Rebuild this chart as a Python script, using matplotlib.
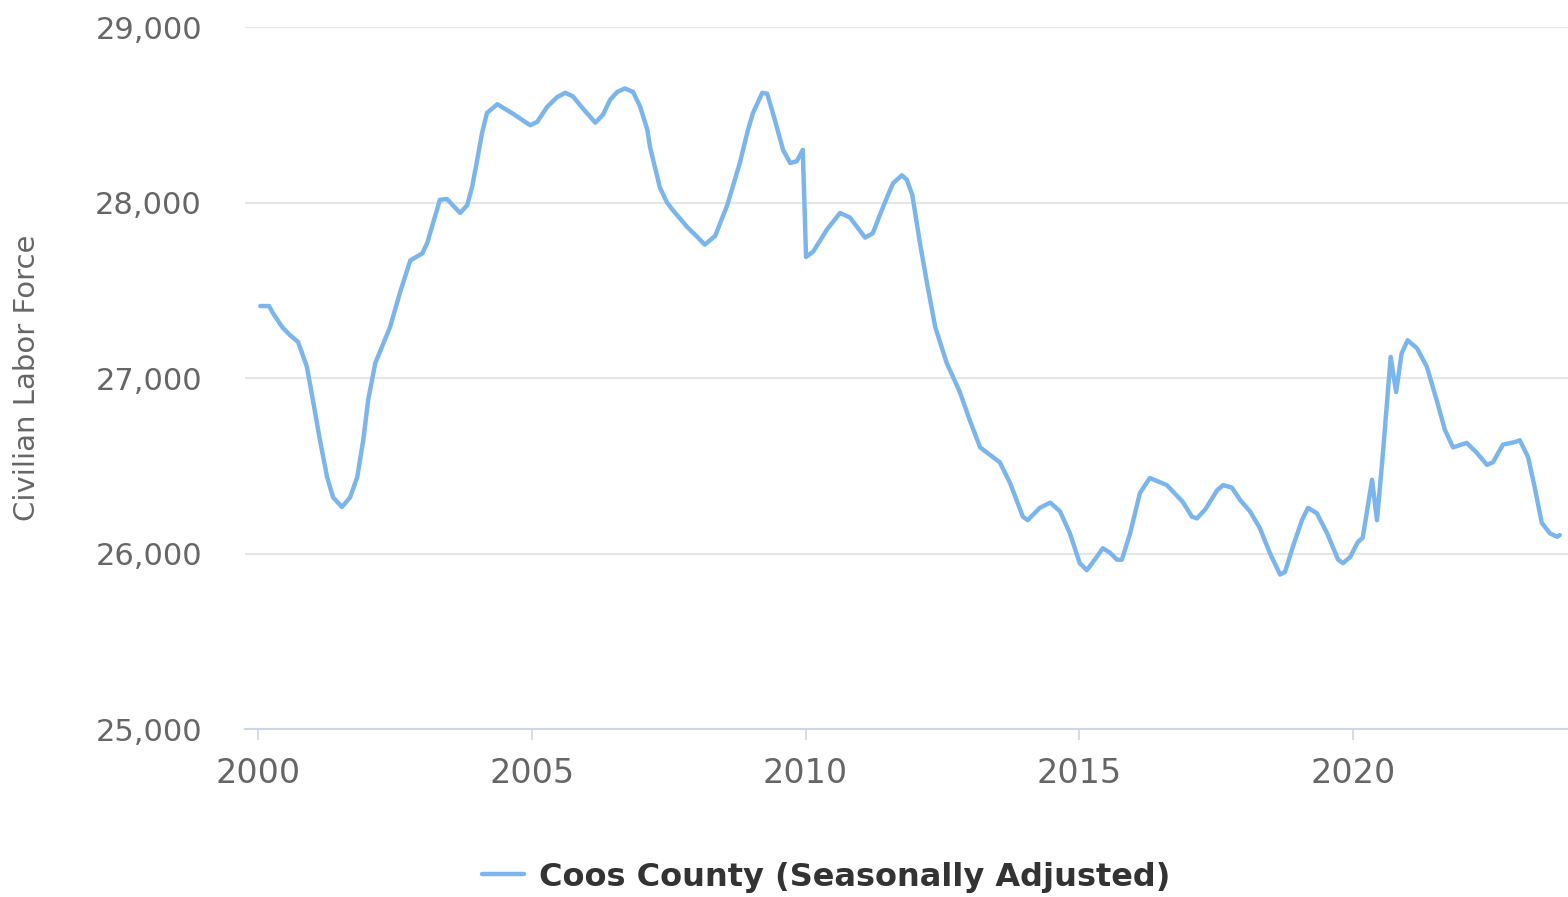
import matplotlib
matplotlib.use('Agg')
import matplotlib.pyplot as plt
from matplotlib.ticker import FuncFormatter

# Coos County civilian labor force, seasonally adjusted
years = [2000.04, 2000.20, 2000.27, 2000.44, 2000.58, 2000.73, 2000.89, 2001.00, 2001.13, 2001.26,
         2001.37, 2001.53, 2001.68, 2001.81, 2001.92, 2002.01, 2002.14, 2002.41, 2002.59, 2002.78,
         2003.00, 2003.09, 2003.32, 2003.45, 2003.69, 2003.82, 2003.91, 2004.00, 2004.09, 2004.18,
         2004.37, 2004.66, 2004.97, 2005.10, 2005.28, 2005.46, 2005.61, 2005.75, 2005.88, 2006.16,
         2006.30, 2006.43, 2006.56, 2006.70, 2006.85, 2006.98, 2007.11, 2007.16, 2007.25, 2007.34,
         2007.47, 2007.58, 2007.84, 2008.02, 2008.16, 2008.35, 2008.57, 2008.80, 2008.95, 2009.04,
         2009.21, 2009.30, 2009.44, 2009.59, 2009.72, 2009.84, 2009.95, 2010.01, 2010.14, 2010.39,
         2010.63, 2010.81, 2011.09, 2011.23, 2011.36, 2011.49, 2011.60, 2011.76, 2011.85, 2011.95,
         2012.09, 2012.22, 2012.37, 2012.58, 2012.82, 2013.00, 2013.19, 2013.42, 2013.55, 2013.74,
         2013.97, 2014.06, 2014.28, 2014.47, 2014.65, 2014.83, 2015.01, 2015.14, 2015.32, 2015.43,
         2015.56, 2015.69, 2015.78, 2015.93, 2016.11, 2016.29, 2016.60, 2016.89, 2017.06, 2017.15,
         2017.30, 2017.52, 2017.63, 2017.79, 2017.94, 2018.12, 2018.30, 2018.48, 2018.67, 2018.76,
         2018.90, 2019.07, 2019.18, 2019.34, 2019.53, 2019.73, 2019.82, 2019.95, 2020.09, 2020.18,
         2020.35, 2020.44, 2020.55, 2020.69, 2020.79, 2020.89, 2021.00, 2021.17, 2021.35, 2021.53,
         2021.68, 2021.83, 2022.08, 2022.26, 2022.45, 2022.56, 2022.74, 2022.96, 2023.05, 2023.20,
         2023.32, 2023.45, 2023.60, 2023.73, 2023.78]

labor_force = [27410, 27410, 27370, 27290, 27245, 27205, 27065, 26875, 26645, 26435,
               26320, 26265, 26320, 26435, 26645, 26875, 27085, 27290, 27485, 27670,
               27710, 27770, 28015, 28020, 27940, 27985, 28090, 28240, 28395, 28510,
               28560, 28505, 28440, 28460, 28545, 28600, 28625, 28605, 28555, 28455,
               28500, 28585, 28630, 28650, 28630, 28545, 28415, 28315, 28200, 28085,
               28000, 27955, 27860, 27805, 27760, 27810, 27985, 28225, 28415, 28510,
               28625, 28620, 28470, 28300, 28225, 28235, 28300, 27690, 27720, 27845,
               27940, 27915, 27800, 27825, 27930, 28030, 28110, 28155, 28130, 28045,
               27770, 27540, 27290, 27085, 26920, 26760, 26605, 26550, 26520, 26400,
               26210, 26190, 26260, 26290, 26240, 26115, 25945, 25905, 25980, 26030,
               26005, 25965, 25965, 26115, 26345, 26430, 26390, 26295, 26210, 26200,
               26250, 26360, 26390, 26375, 26305, 26240, 26145, 26005, 25880, 25895,
               26035, 26190, 26260, 26230, 26115, 25965, 25945, 25980, 26065, 26090,
               26420, 26190, 26575, 27120, 26920, 27140, 27215, 27170, 27065, 26875,
               26705, 26605, 26630, 26575, 26505, 26520, 26620, 26635, 26645, 26550,
               26380, 26175, 26115, 26095, 26105]

x_ticks = [2000, 2005, 2010, 2015, 2020]
y_ticks = [25000, 26000, 27000, 28000, 29000]
series_name = 'Coos County (Seasonally Adjusted)'

fig = plt.figure(figsize=(15.68, 8.97), dpi=100)
ax = fig.add_axes([245/1568, 1 - 729/897, 1 - 245/1568, (729 - 27)/897])

line, = ax.plot(years, labor_force, color='#7cb5ec', lw=3.2, label=series_name,
                solid_joinstyle='round', solid_capstyle='round', zorder=3)

ax.set_xlim(1999.76, 2023.93)
ax.set_ylim(25000, 29000)
ax.set_xticks(x_ticks)
ax.set_yticks(y_ticks)
ax.yaxis.set_major_formatter(FuncFormatter(lambda v, p: '{:,.0f}'.format(v)))

ax.grid(axis='y', color='#e6e6e6', lw=1.5)
ax.set_axisbelow(True)
for s in ['top', 'right', 'left']:
    ax.spines[s].set_visible(False)
ax.spines['bottom'].set_color('#ccd6eb')
ax.spines['bottom'].set_linewidth(1.5)

ax.tick_params(axis='y', length=0, pad=31, labelsize=22, labelcolor='#666666')
ax.tick_params(axis='x', length=8, width=1.2, color='#ccd6eb', pad=12,
               labelsize=24, labelcolor='#666666')

fig.text(27/1568, 1 - 378/897, 'Civilian Labor Force', rotation=90, ha='center',
         va='center', fontsize=21, color='#666666')

fig.legend(handles=[line], loc='center', bbox_to_anchor=(826/1568, 1 - 877/897),
           frameon=False, handlelength=1.3, handletextpad=0.47,
           prop={'weight': 'bold', 'size': 23}, labelcolor='#333333')

fig.savefig('out.png', dpi=100)
